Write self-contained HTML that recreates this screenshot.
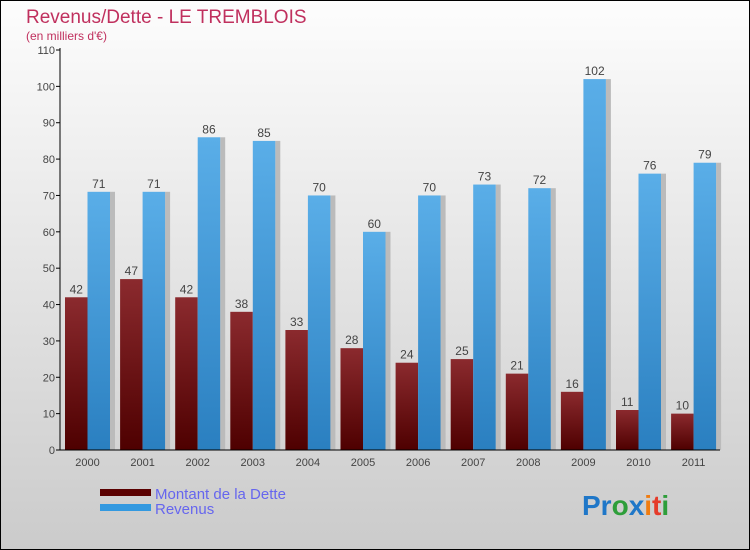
<!DOCTYPE html>
<html><head><meta charset="utf-8"><style>
body{margin:0}
svg{display:block;font-family:"Liberation Sans",sans-serif}
</style></head><body>
<svg width="750" height="550" viewBox="0 0 750 550">
<defs>
<linearGradient id="bg" x1="0" y1="0" x2="0" y2="1"><stop offset="0" stop-color="#fdfdfd"/><stop offset="1" stop-color="#cbcbcb"/></linearGradient>
<linearGradient id="red" x1="0" y1="0" x2="0" y2="1"><stop offset="0" stop-color="#8b2a2e"/><stop offset="1" stop-color="#4e0000"/></linearGradient>
<linearGradient id="blue" x1="0" y1="0" x2="0" y2="1"><stop offset="0" stop-color="#5aaee8"/><stop offset="1" stop-color="#2a7fc0"/></linearGradient>
</defs>
<rect x="0.5" y="0.5" width="749" height="549" fill="url(#bg)" stroke="#000"/>
<text x="26" y="23" font-size="19" fill="#c0305e">Revenus/Dette - LE TREMBLOIS</text>
<text x="26" y="40" font-size="12" fill="#c0305e">(en milliers d'€)</text>
<g id="plot"></g>
<rect x="100" y="489" width="51" height="7" fill="#5a0000"/>
<rect x="100" y="504" width="51" height="7" fill="#3399e0"/>
<text x="155" y="499" font-size="15" fill="#6666ee">Montant de la Dette</text>
<text x="155" y="514" font-size="15" fill="#6666ee">Revenus</text>
<text x="582" y="515" font-size="28" font-weight="bold"><tspan fill="#1f77c8">Pr</tspan><tspan fill="#2e9e3a">o</tspan><tspan fill="#1f77c8">x</tspan><tspan fill="#f07c10">i</tspan><tspan fill="#e53b2a">t</tspan><tspan fill="#2e9e3a">i</tspan></text>
</svg>
<script>
const years=["2000","2001","2002","2003","2004","2005","2006","2007","2008","2009","2010","2011"];
const dette=[42,47,42,38,33,28,24,25,21,16,11,10];
const revenus=[71,71,86,85,70,60,70,73,72,102,76,79];
const yTicks=[0,10,20,30,40,50,60,70,80,90,100,110];
const NS="http://www.w3.org/2000/svg";
const g=document.getElementById('plot');
const y0=450,x0=60,pxPerUnit=400/110,step=55.1,bw=22.5;
const yS=v=>y0-v*pxPerUnit;
const gx=i=>x0+27.5+i*step;
function mk(t,a,txt){const e=document.createElementNS(NS,t);for(const k in a)e.setAttribute(k,a[k]);if(txt!==undefined)e.textContent=txt;g.appendChild(e);return e;}
yTicks.forEach(v=>{
 const l=mk('line',{x1:x0-4,x2:x0,y1:yS(v),y2:yS(v),stroke:'#000'});
 
 
 const t=mk('text',{x:x0-5,y:yS(v)+4,'font-size':11,fill:'#444','text-anchor':'end'},v);
 
 
});
years.forEach((yr,i)=>{
 const c=gx(i);
 const sh=mk('rect',{x:c+bw,y:yS(revenus[i]),width:5,height:y0-yS(revenus[i]),fill:'#bbb'});
 
 
 const r=mk('rect',{x:c-bw,y:yS(dette[i]),width:bw,height:y0-yS(dette[i]),fill:'url(#red)'});
 
 
 const b=mk('rect',{x:c,y:yS(revenus[i]),width:bw,height:y0-yS(revenus[i]),fill:'url(#blue)'});
 
 
 const t1=mk('text',{x:c-bw/2,y:yS(dette[i])-4,'font-size':12,fill:'#444','text-anchor':'middle'},dette[i]);
 
 
 const t2=mk('text',{x:c+bw/2,y:yS(revenus[i])-4,'font-size':12,fill:'#444','text-anchor':'middle'},revenus[i]);
 
 
 const xl=mk('text',{x:c,y:466,'font-size':11,fill:'#444','text-anchor':'middle'},yr);
 
 
});
const ya=mk('line',{x1:x0,x2:x0,y1:48,y2:y0,stroke:'#000'});


const xa=mk('line',{x1:x0,x2:720,y1:y0,y2:y0,stroke:'#000'});


</script>
</body></html>
